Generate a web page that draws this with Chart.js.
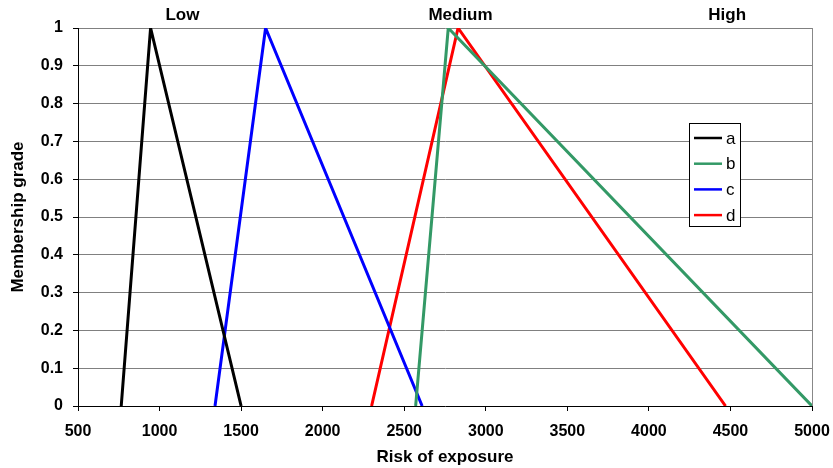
<!DOCTYPE html>
<html>
<head>
<meta charset="utf-8">
<script src="https://cdn.jsdelivr.net/npm/chart.js@4.4.0/dist/chart.umd.min.js"></script>
<style>
    html, body { margin: 0; padding: 0; background: #fff; }
    #riskPlot { display: block; }
</style>
</head>
<body>
<canvas id="riskPlot" width="833" height="468"></canvas>
<script>
// Membership functions (x = risk of exposure, y = membership grade)
var aX = [765, 945, 1500];
var aY = [0, 1, 0];
var bX = [2570, 2770, 5000];
var bY = [0, 1, 0];
var cX = [1340, 1650, 2610];
var cY = [0, 1, 0];
var dX = [2300, 2830, 4470];
var dY = [0, 1, 0];

var seriesNames = ['a', 'b', 'c', 'd'];
var seriesColors = ['#000000', '#339966', '#0000ff', '#ff0000'];

// Linguistic levels written above the plot
var levelNames = ['Low', 'Medium', 'High'];
var levelPos = [1140, 2845, 4480];

function _points(xs, ys)
{
    var pts = [];
    for (var i = 0; i < xs.length; i++)
        pts.push({x: xs[i], y: ys[i]});
    return pts;
}

var FONT = "'Liberation Sans', Arial, sans-serif";

// Level names above the chart area
var levelLabels = {
    id: 'levelLabels',
    afterDraw: function(chart) {
        var ctx = chart.ctx;
        var xs = chart.scales.x;
        ctx.save();
        ctx.font = 'bold 17px ' + FONT;
        ctx.fillStyle = '#000';
        ctx.textAlign = 'center';
        ctx.textBaseline = 'middle';
        for (var i = 0; i < levelNames.length; i++)
            ctx.fillText(levelNames[i], xs.getPixelForValue(levelPos[i]), chart.chartArea.top - 13);
        ctx.restore();
    }
};

// Boxed legend inside the plot
var boxLegend = {
    id: 'boxLegend',
    afterDraw: function(chart) {
        var ctx = chart.ctx;
        var area = chart.chartArea;
        var left = area.right - 123, top = area.top + 95;
        var w = 51, h = 103;
        ctx.save();
        ctx.fillStyle = '#fff';
        ctx.fillRect(left, top, w, h);
        ctx.strokeStyle = '#000';
        ctx.lineWidth = 1;
        ctx.strokeRect(left + 0.5, top + 0.5, w, h);
        ctx.font = '17px ' + FONT;
        ctx.textBaseline = 'middle';
        ctx.textAlign = 'left';
        for (var i = 0; i < seriesNames.length; i++) {
            var y = top + 15 + i * 25.7;
            ctx.strokeStyle = seriesColors[i];
            ctx.lineWidth = 2.5;
            ctx.beginPath();
            ctx.moveTo(left + 5, y);
            ctx.lineTo(left + 33, y);
            ctx.stroke();
            ctx.fillStyle = '#000';
            ctx.fillText(seriesNames[i], left + 37, y + 1);
        }
        ctx.restore();
    }
};

var allX = [aX, bX, cX, dX];
var allY = [aY, bY, cY, dY];
var datasets = [];
for (var s = 0; s < seriesNames.length; s++) {
    datasets.push({
        label: seriesNames[s],
        data: _points(allX[s], allY[s]),
        borderColor: seriesColors[s],
        backgroundColor: seriesColors[s],
        borderWidth: 3,
        pointRadius: 0,
        tension: 0,
        fill: false
    });
}

new Chart(document.getElementById('riskPlot'), {
    type: 'line',
    data: { datasets: datasets },
    plugins: [levelLabels, boxLegend],
    options: {
        responsive: false,
        animation: false,
        devicePixelRatio: 1,
        layout: { padding: { left: 8, right: 21, top: 28, bottom: 0 } },
        plugins: {
            legend: { display: false },
            tooltip: { enabled: false }
        },
        scales: {
            x: {
                type: 'linear',
                min: 500,
                max: 5000,
                ticks: {
                    stepSize: 500,
                    autoSkip: false,
                    color: '#000',
                    font: { family: FONT, size: 16, weight: 'bold' },
                    padding: 11,
                    maxRotation: 0,
                    callback: function(v) { return String(v); }
                },
                grid: {
                    color: function(c) { return c.tick && c.tick.value === 5000 ? '#888' : 'rgba(0,0,0,0)'; },
                    tickColor: '#000',
                    tickLength: 5,
                    lineWidth: 1
                },
                border: { color: '#000', width: 1 },
                title: {
                    display: true,
                    text: 'Risk of exposure',
                    color: '#000',
                    font: { family: FONT, size: 17, weight: 'bold' },
                    padding: { top: 2, bottom: 0 }
                },
                afterFit: function(scale) {
                    scale.height = 62;
                    scale.paddingLeft = 0;
                    scale.paddingRight = 0;
                }
            },
            y: {
                min: 0,
                max: 1,
                ticks: {
                    stepSize: 0.1,
                    autoSkip: false,
                    color: '#000',
                    font: { family: FONT, size: 16, weight: 'bold' },
                    padding: 10,
                    callback: function(v) { return String(Math.round(v * 10) / 10); }
                },
                grid: {
                    color: function(c) { return c.tick && c.tick.value === 0 ? 'rgba(0,0,0,0)' : '#808080'; },
                    tickColor: '#000',
                    tickLength: 5,
                    lineWidth: 1
                },
                border: { color: '#000', width: 1 },
                title: {
                    display: true,
                    text: 'Membership grade',
                    color: '#000',
                    font: { family: FONT, size: 17, weight: 'bold' },
                    padding: { top: 0, bottom: 0 }
                },
                afterFit: function(scale) {
                    scale.width = 70;
                    scale.paddingTop = 0;
                    scale.paddingBottom = 0;
                }
            }
        }
    }
});
</script>
</body>
</html>
